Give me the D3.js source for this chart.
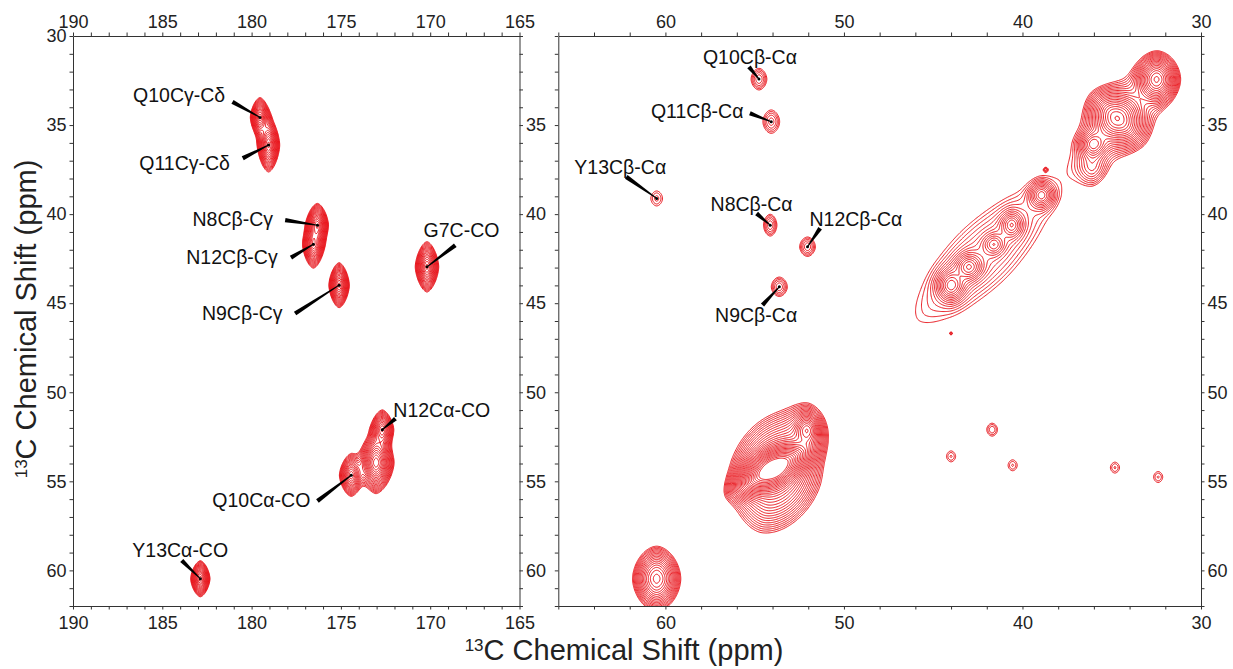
<!DOCTYPE html>
<html>
<head>
<meta charset="utf-8">
<script src="https://cdn.jsdelivr.net/npm/d3@7"></script>
<style>
  body { margin: 0; background: #fff; }
  svg { display: block; }
  text { font-family: "Liberation Sans", Arial, Helvetica, sans-serif; }
</style>
</head>
<body>
<svg id="chart" width="1233" height="669"></svg>
<script>
// ---- data ----
// peaks: [x ppm, y ppm, height, width1, width2, tilt (deg)]
var leftPeaks = [
  [179.53, 34.57, 9, 0.33, 0.68, 0],   // Q10 Cg-Cd
  [179.05, 36.12, 10, 0.37, 0.9, 0],   // Q11 Cg-Cd
  [176.31, 40.62, 10, 0.36, 0.72, 0],  // N8 Cb-Cg
  [176.54, 41.69, 9, 0.37, 0.82, 0],   // N12 Cb-Cg
  [175.1, 43.99, 10, 0.34, 0.75, 0],   // N9 Cb-Cg
  [170.18, 42.96, 10, 0.39, 0.84, 0],  // G7 C-CO
  [172.68, 52.1, 8, 0.4, 0.7, 0],      // N12 Ca-CO
  [173.03, 53.95, 14, 0.55, 0.95, 0],
  [174.42, 54.66, 8, 0.42, 0.75, 0],   // Q10 Ca-CO
  [182.87, 60.47, 9, 0.33, 0.62, 0]    // Y13 Ca-CO
];
var rightPeaks = [
  // Cb-Ca cross peaks
  [54.76, 32.42, 2, 0.54, 0.74, 0],
  [54.07, 34.81, 1.9, 0.6, 0.84, 0],
  [60.49, 39.12, 1.4, 0.6, 0.77, 0],
  [54.13, 40.62, 2, 0.46, 0.75, 0],
  [52.04, 41.83, 2, 0.54, 0.67, 0],
  [53.62, 44.08, 2, 0.55, 0.67, 0],
  // upper diagonal blob
  [34.5, 34.6, 2.5, 3.0, 1.6, 50],
  [32.48, 32.43, 12, 0.75, 0.9, 0],
  [34.7, 34.62, 12, 0.9, 1.1, 45],
  [36.04, 36.07, 5, 0.6, 0.6, 0],
  [36.1, 37.4, 1.8, 0.7, 0.9, 0],
  [38.7, 37.5, 1.04, 0.12, 0.12, 0],
  // middle diagonal blob
  [42.2, 42.3, 2.5, 5.4, 1.9, 45],
  [38.93, 38.93, 4, 0.55, 0.6, 0],
  [40.6, 40.6, 3.5, 0.5, 0.6, 0],
  [41.6, 41.7, 3, 0.5, 0.5, 0],
  [43.0, 42.96, 5, 0.6, 0.6, 0],
  [44.0, 44.0, 5, 0.6, 0.7, 0],
  [44.0, 46.7, 1.04, 0.1, 0.1, 0],
  // Ca diagonal
  [53.8, 54.5, 12, 2.1, 1.55, 75],
  [53.96, 54.3, 60, 1.3, 0.62, 30],
  [52.07, 52.13, 3, 0.9, 1.2, 0],
  [52.07, 52.13, 8, 0.5, 0.65, 0],
  [60.49, 60.47, 10, 0.85, 1.15, 0],
  // Ca-Cb cross peaks
  [44.0, 53.6, 1.35, 0.5, 0.6, 0],
  [41.7, 52.1, 1.5, 0.5, 0.6, 0],
  [40.55, 54.1, 1.35, 0.5, 0.6, 0],
  [34.82, 54.23, 1.35, 0.5, 0.6, 0],
  [32.4, 54.76, 1.35, 0.5, 0.6, 0]
];

// assignments: [label, x ppm, y ppm]
var leftLabels = [
  ['Q10Cγ-Cδ', 179.53, 34.57],
  ['Q11Cγ-Cδ', 179.05, 36.12],
  ['N8Cβ-Cγ', 176.31, 40.62],
  ['N12Cβ-Cγ', 176.54, 41.69],
  ['N9Cβ-Cγ', 175.1, 43.99],
  ['G7C-CO', 170.18, 42.96],
  ['N12Cα-CO', 172.68, 52.1],
  ['Q10Cα-CO', 174.42, 54.66],
  ['Y13Cα-CO', 182.87, 60.47]
];
var rightLabels = [
  ['Q10Cβ-Cα', 54.76, 32.42],
  ['Q11Cβ-Cα', 54.07, 34.81],
  ['Y13Cβ-Cα', 60.49, 39.12],
  ['N8Cβ-Cα', 54.13, 40.62],
  ['N12Cβ-Cα', 52.04, 41.83],
  ['N9Cβ-Cα', 53.62, 44.08]
];

var yTickLabels = [30, 35, 40, 45, 50, 55, 60];
var leftXTickLabels = [190, 185, 180, 175, 170, 165];
var rightXTickLabels = [60, 50, 40, 30];
var axisTitle = 'C Chemical Shift (ppm)';

// ---- layout ----
var plotTop = 36, plotBottom = 606;
var red = '#e8141b';
var levels = d3.range(28).map(function(i) { return Math.pow(1.15, i); });

// leader [dx, dy] from peak to thick end, text centre [dx, dy] (px)
var labelPlace = {
  'Q10Cγ-Cδ': [[-27.5, -15.6], [-80.9, -22.3]],
  'Q11Cγ-Cδ': [[-25.8, 13.3], [-84, 18]],
  'N8Cβ-Cγ': [[-32.3, -5], [-84.7, -6]],
  'N12Cβ-Cγ': [[-22.4, 13.3], [-81.4, 12.7]],
  'N9Cβ-Cγ': [[-44, 28.3], [-96.9, 28]],
  'G7C-CO': [[28.3, -21.7], [34.5, -36.7]],
  'N12Cα-CO': [[13.1, -11], [59.4, -19.3]],
  'Q10Cα-CO': [[-33.8, 25.7], [-89.9, 25]],
  'Y13Cα-CO': [[-18.6, -18.3], [-20.1, -28.3]],
  'Q10Cβ-Cα': [[-10, -12.3], [-9, -21.7]],
  'Q11Cβ-Cα': [[-21.4, -8.4], [-74.1, -11]],
  'Y13Cβ-Cα': [[-30.4, -21.6], [-36.4, -31.6]],
  'N8Cβ-Cα': [[-13.6, -11.7], [-18.6, -20.7]],
  'N12Cβ-Cα': [[12.6, -18.4], [48.4, -27.7]],
  'N9Cβ-Cα': [[-16.8, 18.3], [-23.2, 28.3]]
};

var panels = [
  { id: 'left', xDomain: [190, 165], xRange: [73, 519.5], xStep: 1, xLabels: leftXTickLabels,
    peaks: leftPeaks, labels: leftLabels, shape: 1.6, leftText: true },
  { id: 'right', xDomain: [66, 30], xRange: [558.3, 1201], xStep: 2, xLabels: rightXTickLabels,
    peaks: rightPeaks, labels: rightLabels, shape: 1.8, leftText: false }
];

var svg = d3.select('#chart');
var defs = svg.append('defs');

var y = d3.scaleLinear().domain([30, 62]).range([plotTop, plotBottom]);

// sum of peak shapes on a grid
function buildField(peaks, xmin, xmax, ymin, ymax, step, pw) {
  var nx = Math.round((xmax - xmin) / step) + 1;
  var ny = Math.round((ymax - ymin) / step) + 1;
  var values = new Float64Array(nx * ny);
  peaks.forEach(function(p) {
    var t = p[5] * Math.PI / 180, c = Math.cos(t), s = Math.sin(t);
    var r = 4.5 * Math.max(p[3], p[4]);
    var i0 = Math.max(0, Math.floor((p[0] - r - xmin) / step));
    var i1 = Math.min(nx - 1, Math.ceil((p[0] + r - xmin) / step));
    var j0 = Math.max(0, Math.floor((p[1] - r - ymin) / step));
    var j1 = Math.min(ny - 1, Math.ceil((p[1] + r - ymin) / step));
    for (var j = j0; j <= j1; j++) {
      var dy = ymin + j * step - p[1];
      for (var i = i0; i <= i1; i++) {
        var dx = xmin + i * step - p[0];
        var u = Math.abs((dx * c + dy * s) / p[3]);
        var v = Math.abs((-dx * s + dy * c) / p[4]);
        values[j * nx + i] += p[2] * Math.exp(-(Math.pow(u, pw) + Math.pow(v, pw)));
      }
    }
  });
  return { nx: nx, ny: ny, values: values };
}

panels.forEach(function(pn) {
  var x = d3.scaleLinear().domain(pn.xDomain).range(pn.xRange);
  var g = svg.append('g').attr('class', 'panel-' + pn.id);
  var x0 = pn.xRange[0], x1 = pn.xRange[1];

  defs.append('clipPath').attr('id', 'clip-' + pn.id)
    .append('rect')
    .attr('x', x0).attr('y', plotTop)
    .attr('width', x1 - x0).attr('height', plotBottom - plotTop);

  // contours
  var step = 0.05, pad = 3;
  var xmin = d3.min(pn.xDomain) - pad, xmax = d3.max(pn.xDomain) + pad;
  var ymin = 30 - pad, ymax = 62 + pad;
  var field = buildField(pn.peaks, xmin, xmax, ymin, ymax, step, pn.shape);
  var contours = d3.contours().size([field.nx, field.ny]).thresholds(levels)(field.values);
  var proj = d3.geoTransform({
    point: function(gx, gy) {
      this.stream.point(x(xmin + (gx - 0.5) * step), y(ymin + (gy - 0.5) * step));
    }
  });
  var path = d3.geoPath(proj);

  g.append('g')
    .attr('clip-path', 'url(#clip-' + pn.id + ')')
    .selectAll('path')
    .data(contours)
    .enter()
    .append('path')
    .attr('d', path)
    .attr('fill', 'none')
    .attr('stroke', red)
    .attr('stroke-width', 1)
    .attr('stroke-linejoin', 'round');

  // axes
  var xTicks = d3.range(d3.min(pn.xDomain), d3.max(pn.xDomain) + 0.001, pn.xStep);
  var yTicks = d3.range(30, 62.001, 1);
  var fmtX = function(d) { return pn.xLabels.indexOf(d) >= 0 ? d : ''; };
  var fmtYL = function(d) { return pn.leftText && yTickLabels.indexOf(d) >= 0 ? d : ''; };
  var fmtYR = function(d) { return d > 30 && yTickLabels.indexOf(d) >= 0 ? d : ''; };

  var axes = [
    [d3.axisTop(x).tickValues(xTicks).tickFormat(fmtX).tickPadding(4.5), 'translate(0,' + plotTop + ')'],
    [d3.axisBottom(x).tickValues(xTicks).tickFormat(fmtX).tickPadding(7), 'translate(0,' + plotBottom + ')'],
    [d3.axisLeft(y).tickValues(yTicks).tickFormat(fmtYL).tickPadding(3), 'translate(' + x0 + ',0)'],
    [d3.axisRight(y).tickValues(yTicks).tickFormat(fmtYR).tickPadding(3), 'translate(' + x1 + ',0)']
  ];
  axes.forEach(function(a) {
    var ax = g.append('g')
      .attr('transform', a[1])
      .call(a[0].tickSize(3.5).tickSizeOuter(0));
    ax.select('.domain').attr('stroke', '#333').attr('stroke-width', 1);
    ax.selectAll('.tick line').attr('stroke', '#333').attr('stroke-width', 1);
    ax.selectAll('.tick text')
      .attr('fill', '#222')
      .style('font-size', '18px')
      .style('font-family', '"Liberation Sans", Arial, sans-serif');
  });

  // assignments
  pn.labels.forEach(function(l) {
    var px = x(l[1]), py = y(l[2]);
    var place = labelPlace[l[0]];
    var sx = px + place[0][0], sy = py + place[0][1];
    var len = Math.sqrt(Math.pow(sx - px, 2) + Math.pow(sy - py, 2));
    var nx = -(sy - py) / len, ny = (sx - px) / len;
    var w0 = 2.2, w1 = 0.5;
    var pts = [
      [sx + nx * w0, sy + ny * w0], [px + nx * w1, py + ny * w1],
      [px - nx * w1, py - ny * w1], [sx - nx * w0, sy - ny * w0]
    ];
    g.append('polygon')
      .attr('points', pts.map(function(p) { return p.join(','); }).join(' '))
      .attr('fill', '#000');
    g.append('circle')
      .attr('cx', px).attr('cy', py).attr('r', 1.5)
      .attr('fill', '#000');
    g.append('text')
      .attr('x', px + place[1][0])
      .attr('y', py + place[1][1])
      .attr('dy', '0.35em')
      .attr('text-anchor', 'middle')
      .attr('fill', '#111')
      .style('font-size', '19.5px')
      .text(l[0]);
  });
});

// axis titles (superscript raised 9px, then back to the baseline)
var xt = svg.append('text')
  .attr('x', 624).attr('y', 660)
  .attr('text-anchor', 'middle')
  .attr('fill', '#222')
  .style('font-size', '29px');
xt.append('tspan').attr('dy', -9).style('font-size', '17px').text('13');
xt.append('tspan').attr('dy', 9).text(axisTitle);

var yt = svg.append('text')
  .attr('transform', 'translate(36,319) rotate(-90)')
  .attr('text-anchor', 'middle')
  .attr('fill', '#222')
  .style('font-size', '29px');
yt.append('tspan').attr('dy', -9).style('font-size', '17px').text('13');
yt.append('tspan').attr('dy', 9).text(axisTitle);
</script>
</body>
</html>
